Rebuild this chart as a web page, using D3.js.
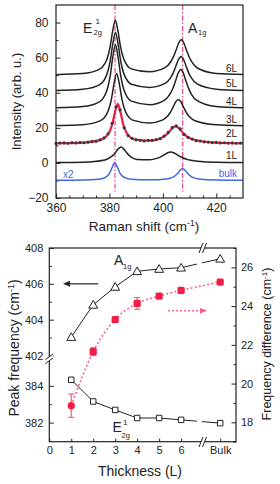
<!DOCTYPE html>
<html><head><meta charset="utf-8">
<script src="https://cdn.jsdelivr.net/npm/d3@7"></script>
<style>
html,body{margin:0;padding:0;background:#fff;}
svg{display:block;font-family:Arial,"Liberation Sans",sans-serif;}
</style></head><body>
<svg id="c" width="280" height="484"></svg>
<script>
// ================= DATA =================
// Top panel: Raman spectra (x = Raman shift cm^-1, y = intensity arb. u.)
const spectraLabels = ["6L","5L","4L","3L","2L","1L","bulk"];
const spectraBase   = [50, 41, 31, 21, 11, 0, -10];
const spec6L = [[360,50.3],[370,50.9],[376.2,53.3],[378.2,56.4],[379.2,59.7],[380.2,65.7],[381.2,75.0],[382.2,81.3],[383.2,75.1],[384.2,65.8],[385.2,59.9],[386.2,56.6],[388.2,53.6],[395,51.9],[400.9,54.4],[402.9,57.5],[403.9,60.3],[404.9,64.1],[405.9,68.2],[406.9,70.2],[407.9,68.2],[408.9,64.0],[409.9,60.2],[410.9,57.4],[412.9,54.1],[420,51.0],[430,50.4]];
const spec5L = [[360,41.3],[370,42.0],[376.25,44.5],[378.25,47.8],[379.25,51.4],[380.25,57.7],[381.25,67.7],[382.25,74.3],[383.25,67.7],[384.25,57.8],[385.25,51.5],[386.25,48.0],[388.25,44.8],[395,43.0],[400.8,45.3],[402.8,48.3],[403.8,51.0],[404.8,54.8],[405.8,58.8],[406.8,60.7],[407.8,58.8],[408.8,54.7],[409.8,50.9],[410.8,48.2],[412.8,45.0],[420,42.0],[430,41.3]];
const spec4L = [[360,31.4],[370,32.1],[376.25,34.8],[378.25,38.4],[379.25,42.3],[380.25,49.3],[381.25,60.1],[382.25,67.3],[383.25,60.1],[384.25,49.4],[385.25,42.5],[386.25,38.7],[388.25,35.2],[395,33.2],[400.7,35.8],[402.7,39.3],[403.7,42.3],[404.7,46.5],[405.7,51.1],[406.7,53.3],[407.7,51.0],[408.7,46.4],[409.7,42.2],[410.7,39.1],[412.7,35.6],[420,32.1],[430,31.4]];
const spec3L = [[360,21.3],[370,21.8],[376.7,24.1],[378.7,27.1],[379.7,30.3],[380.7,36.0],[381.7,44.9],[382.7,50.9],[383.7,45.0],[384.7,36.1],[385.7,30.4],[386.7,27.2],[388.7,24.4],[395,22.8],[399.8,24.4],[401.8,26.7],[402.8,28.8],[403.8,31.7],[404.8,34.8],[405.8,36.2],[406.8,34.7],[407.8,31.6],[408.8,28.7],[409.8,26.6],[411.8,24.2],[420,21.7],[430,21.2]];
const spec2Lfit = [[360,11.2],[370,11.6],[377.1,13.4],[379.1,15.6],[380.1,18.0],[381.1,22.4],[382.1,29.1],[383.1,33.6],[384.1,29.2],[385.1,22.4],[386.1,18.1],[387.1,15.7],[389.1,13.5],[395,12.7],[398.8,13.8],[400.8,15.5],[401.8,16.8],[402.8,18.5],[403.8,20.1],[404.8,20.8],[405.8,20.1],[406.8,18.4],[407.8,16.7],[408.8,15.3],[410.8,13.6],[420,11.5],[430,11.2]];
const spec2Ldata = [[360,11.0],[361.5,11.3],[363,11.4],[364.5,11.2],[366,11.6],[367.5,11.4],[369,11.6],[370.5,11.5],[372,11.8],[373.5,12.1],[375,12.3],[376.5,13.1],[378,14.3],[379.5,16.6],[381,22.6],[382.5,31.9],[384,30.2],[385.5,20.0],[387,15.6],[388.5,14.0],[390,13.1],[391.5,12.9],[393,12.5],[394.5,12.8],[396,12.9],[397.5,13.3],[399,13.8],[400.5,15.3],[402,17.4],[403.5,20.2],[405,21.1],[406.5,19.4],[408,16.2],[409.5,14.5],[411,13.6],[412.5,12.7],[414,12.5],[415.5,12.0],[417,11.9],[418.5,11.6],[420,11.7],[421.5,11.4],[423,11.5],[424.5,11.3],[426,11.4],[427.5,11.2],[429,11.3]];
const spec1L = [[360,0.2],[370,0.4],[378.3,1.7],[380.3,3.1],[381.3,4.3],[382.3,6.0],[383.3,8.0],[384.3,9.0],[385.3,8.0],[386.3,6.1],[387.3,4.4],[388.3,3.2],[390.3,2.0],[395,1.8],[397,2.3],[399,3.3],[400,4.1],[401,5.1],[402,5.9],[403,6.2],[404,5.8],[405,5.0],[406,4.0],[407,3.2],[409,2.0],[413,1.0],[420,0.4],[430,0.2]];
const specBulk = [[360,-9.93],[370,-9.8],[376,-9.3],[378,-8.57],[379,-7.73],[380,-6.0],[381,-2.65],[382,0.25],[383,-2.6],[384,-5.96],[385,-7.7],[386,-8.53],[388,-9.25],[395,-9.64],[401.4,-9.13],[403.4,-8.36],[404.4,-7.56],[405.4,-6.22],[406.4,-4.31],[407.4,-3.15],[408.4,-4.32],[409.4,-6.23],[410.4,-7.57],[411.4,-8.37],[413.4,-9.15],[420,-9.8],[430,-9.94]];
const bulkModes = [382.1, 407.4];        // dash-dot reference lines
const ramanTicks = [360, 380, 400, 420];
const intensityTicks = [-20, 0, 20, 40, 60, 80];

// Bottom panel: peak frequency and frequency difference vs thickness
const thickness    = ["0","1","2","3","4","5","6","Bulk"];
const thicknessPos = [0, 1, 2, 3, 4, 5, 6, 7.78];
const layerPos  = [1, 2, 3, 4, 5, 6, 7.78];
const a1gFreq   = [403.03, 404.83, 405.83, 406.70, 406.83, 406.90, 407.40];
const e2gFreq   = [384.33, 383.15, 382.69, 382.25, 382.25, 382.15, 381.97];
const freqDiff  = [18.86, 21.65, 23.31, 24.14, 24.52, 24.81, 25.24];
const freqErr   = [0.60, 0.20, 0.10, 0.30, 0.12, 0.08, 0.08];
const peakTicks = [382, 384, 402, 404, 406, 408];
const peakMinor = [383, 403, 405, 407];
const diffTicks = [18, 20, 22, 24, 26];
const diffMinor = [17, 19, 21, 23, 25, 27];

// ================= DRAW =================
const svg = d3.select("#c");
const INK = "#222";
const PINK = "#f0468c";
const RED = "#f21d45";
const BLUE = "#3e6ae0";

function cleanAxis(g){ g.select(".domain").remove(); g.selectAll("text").attr("fill",INK).style("font-family","Arial, 'Liberation Sans', sans-serif"); g.selectAll("line").attr("stroke",INK); }

// ---------- top panel ----------
const tx = d3.scaleLinear().domain([360,430]).range([56,243]);
const ty = d3.scaleLinear().domain([-20,90]).range([198,5]);

const T = svg.append("g");
// minor ticks
T.append("g").attr("transform","translate(0,198)")
  .call(d3.axisBottom(tx).tickValues(d3.range(365,430,5).filter(v=>!ramanTicks.includes(v))).tickSize(-2.5).tickFormat(""))
  .call(cleanAxis);
T.append("g").attr("transform","translate(56,0)")
  .call(d3.axisLeft(ty).tickValues(d3.range(-10,90,20)).tickSize(-2.5).tickFormat(""))
  .call(cleanAxis);
// major
T.append("g").attr("transform","translate(0,198)")
  .call(d3.axisBottom(tx).tickValues(ramanTicks).tickSize(-4.5).tickPadding(5).tickFormat(d3.format("d")))
  .call(g=>g.selectAll("text").attr("font-size",12))
  .call(cleanAxis);
T.append("g").attr("transform","translate(56,0)")
  .call(d3.axisLeft(ty).tickValues(intensityTicks).tickSize(-4.5).tickPadding(7.5).tickFormat(d3.format("d")))
  .call(g=>g.selectAll("text").attr("font-size",12))
  .call(cleanAxis);

// dash-dot mode lines
T.selectAll(".mode").data(bulkModes).join("line")
  .attr("x1",d=>tx(d)).attr("x2",d=>tx(d)).attr("y1",ty(90)).attr("y2",ty(-16.5))
  .attr("stroke",PINK).attr("stroke-width",1.2).attr("stroke-dasharray","5,2,1.5,2");

const tline = d3.line().x(d=>tx(d[0])).y(d=>ty(d[1])).curve(d3.curveMonotoneX);
[spec6L,spec5L,spec4L,spec3L,spec1L].forEach(s=>{
  T.append("path").attr("d",tline(s)).attr("fill","none").attr("stroke",INK).attr("stroke-width",1.5);
});
T.append("path").attr("d",tline(specBulk)).attr("fill","none").attr("stroke",BLUE).attr("stroke-width",1.5);
T.append("path").attr("d",tline(spec2Lfit)).attr("fill","none").attr("stroke",RED).attr("stroke-width",2.2);
T.selectAll(".pt").data(spec2Ldata).join("circle")
  .attr("cx",d=>tx(d[0])).attr("cy",d=>ty(d[1])).attr("r",1.6).attr("fill","#3a3a3a");

// curve labels
T.selectAll(".lab").data(spectraLabels).join("text")
  .attr("x",237).attr("y",(d,i)=>ty(spectraBase[i]+(d==="2L"?3.5:2)))
  .attr("text-anchor","end").attr("font-size",10)
  .attr("fill",(d)=>d==="bulk"?BLUE:INK).text(d=>d);
T.append("text").attr("x",63).attr("y",ty(-8.6)).attr("font-size",10).attr("fill",BLUE).text("x2");

// peak labels
T.append("text").attr("x",83).attr("y",33).attr("font-size",14).attr("fill",INK).text("E");
T.append("text").attr("x",95.5).attr("y",24).attr("font-size",8).attr("fill",INK).text("1");
T.append("text").attr("x",93.5).attr("y",35).attr("font-size",7.5).attr("fill",INK).text("2g");
T.append("text").attr("x",188).attr("y",33).attr("font-size",14).attr("fill",INK).text("A");
T.append("text").attr("x",198).attr("y",35).attr("font-size",7.5).attr("fill",INK).text("1g");

// box
T.append("rect").attr("x",56).attr("y",5).attr("width",187).attr("height",193)
  .attr("fill","none").attr("stroke",INK).attr("stroke-width",1.2);

// axis titles
const xt = T.append("text").attr("x",144).attr("y",230.5).attr("text-anchor","middle").attr("font-size",13.5).attr("fill",INK);
xt.append("tspan").text("Raman shift (cm");
xt.append("tspan").attr("dy",-5).attr("font-size",8.5).text("-1");
xt.append("tspan").attr("dy",5).text(")");
T.append("text").attr("transform","translate(20.5,101.5) rotate(-90)").attr("text-anchor","middle")
  .attr("font-size",13).attr("fill",INK).text("Intensity (arb. u.)");

// ---------- bottom panel ----------
const bx = d3.scaleLinear().domain([0,8.5]).range([49.3,236]);
const by = d3.scaleLinear().domain([380.96,385.3,401.75,408]).range([441.7,362,360,248]);
const byR = d3.scaleLinear().domain([17,27]).range([441.7,248]);
const B = svg.append("g");

B.append("g").attr("transform","translate(0,441.7)")
  .call(d3.axisBottom(bx).tickValues(thicknessPos).tickSize(-3).tickPadding(5).tickFormat((d,i)=>thickness[i]))
  .call(g=>g.selectAll("text").attr("font-size",11))
  .call(cleanAxis);
B.append("g").attr("transform","translate(49.3,0)")
  .call(d3.axisLeft(by).tickValues(peakMinor).tickSize(-2.5).tickFormat(""))
  .call(cleanAxis);
B.append("g").attr("transform","translate(49.3,0)")
  .call(d3.axisLeft(by).tickValues(peakTicks).tickSize(-4.5).tickPadding(6).tickFormat(d3.format("d")))
  .call(g=>g.selectAll("text").attr("font-size",11))
  .call(cleanAxis);
B.append("g").attr("transform","translate(236,0)")
  .call(d3.axisRight(byR).tickValues(diffMinor).tickSize(-2.5).tickFormat(""))
  .call(cleanAxis);
B.append("g").attr("transform","translate(236,0)")
  .call(d3.axisRight(byR).tickValues(diffTicks).tickSize(-4.5).tickPadding(5).tickFormat(d3.format("d")))
  .call(g=>g.selectAll("text").attr("font-size",11))
  .call(cleanAxis);

// box
B.append("rect").attr("x",49.3).attr("y",248).attr("width",186.7).attr("height",193.7)
  .attr("fill","none").attr("stroke",INK).attr("stroke-width",1.2);
// axis breaks
function brk(x1,y1,x2,y2,dx,dy){
  B.append("polygon").attr("points",`${x1},${y1} ${x2},${y2} ${x2+dx},${y2+dy} ${x1+dx},${y1+dy}`).attr("fill","#fff");
  B.append("line").attr("x1",x1).attr("y1",y1).attr("x2",x2).attr("y2",y2).attr("stroke",INK).attr("stroke-width",1);
  B.append("line").attr("x1",x1+dx).attr("y1",y1+dy).attr("x2",x2+dx).attr("y2",y2+dy).attr("stroke",INK).attr("stroke-width",1);
}
brk(45.5,359.5,53,354,0,4);
brk(199,447,203,437,3.5,0);
brk(199,253,203,243,3.5,0);

// clip to leave a gap at the x break for the solid lines
const defs = svg.append("defs");
const cp = defs.append("clipPath").attr("id","gap");
cp.append("rect").attr("x",0).attr("y",0).attr("width",197).attr("height",484);
cp.append("rect").attr("x",202).attr("y",0).attr("width",78).attr("height",484);

const lineL = d3.line().x((d,i)=>bx(layerPos[i])).y(d=>by(d));
B.append("path").attr("d",lineL(a1gFreq)).attr("fill","none").attr("stroke",INK).attr("stroke-width",1).attr("clip-path","url(#gap)");
B.append("path").attr("d",lineL(e2gFreq)).attr("fill","none").attr("stroke",INK).attr("stroke-width",1).attr("clip-path","url(#gap)");

const lineR = d3.line().x((d,i)=>bx(layerPos[i])).y(d=>byR(d)).curve(d3.curveMonotoneX);
B.append("path").attr("d",lineR(freqDiff)).attr("fill","none").attr("stroke","#ff5588").attr("stroke-width",1.6).attr("stroke-dasharray","1.8,2.4");

// markers
B.selectAll(".tri").data(a1gFreq).join("path")
  .attr("transform",(d,i)=>`translate(${bx(layerPos[i])},${by(d)+0.8})`)
  .attr("d",d3.symbol(d3.symbolTriangle,34)).attr("fill","#fff").attr("stroke",INK).attr("stroke-width",1);
B.selectAll(".sq").data(e2gFreq).join("path")
  .attr("transform",(d,i)=>`translate(${bx(layerPos[i])},${by(d)})`)
  .attr("d",d3.symbol(d3.symbolSquare,30)).attr("fill","#fff").attr("stroke",INK).attr("stroke-width",1);

// error bars
freqDiff.forEach((v,i)=>{
  const x = bx(layerPos[i]);
  const y0 = byR(v-freqErr[i]), y1 = byR(v+freqErr[i]);
  B.append("line").attr("x1",x).attr("x2",x).attr("y1",y0).attr("y2",y1).attr("stroke","#f2607f").attr("stroke-width",1.2);
  B.append("line").attr("x1",x-3).attr("x2",x+3).attr("y1",y0).attr("y2",y0).attr("stroke","#f2607f").attr("stroke-width",1.2);
  B.append("line").attr("x1",x-3).attr("x2",x+3).attr("y1",y1).attr("y2",y1).attr("stroke","#f2607f").attr("stroke-width",1.2);
});
B.selectAll(".rd").data(freqDiff).join("rect")
  .attr("x",(d,i)=>bx(layerPos[i])-3.6).attr("y",d=>byR(d)-3.6).attr("width",7.2).attr("height",7.2)
  .attr("rx",(d,i)=>i===0?3.6:1.6).attr("fill",RED);

// arrows
B.append("line").attr("x1",bx(2.22)).attr("x2",bx(0.62)+6).attr("y1",by(406)).attr("y2",by(406)).attr("stroke",INK).attr("stroke-width",1.2);
B.append("path").attr("d",`M${bx(0.62)},${by(406)} l7,-3 l0,6 z`).attr("fill",INK);
B.append("line").attr("x1",bx(5.41)).attr("x2",bx(7.18)-6).attr("y1",byR(23.76)).attr("y2",byR(23.76)).attr("stroke","#ff5588").attr("stroke-width",1.6).attr("stroke-dasharray","1.8,2.2");
B.append("path").attr("d",`M${bx(7.18)},${byR(23.76)} l-7,-2.8 l0,5.6 z`).attr("fill","#ff5588");

// mode labels
B.append("text").attr("x",114).attr("y",265).attr("font-size",14).attr("fill",INK).text("A");
B.append("text").attr("x",123).attr("y",268.5).attr("font-size",7.5).attr("fill",INK).text("1g");
B.append("text").attr("x",112.5).attr("y",431.5).attr("font-size",14).attr("fill",INK).text("E");
B.append("text").attr("x",123).attr("y",424.5).attr("font-size",8).attr("fill",INK).text("1");
B.append("text").attr("x",121.5).attr("y",437.5).attr("font-size",7.5).attr("fill",INK).text("2g");

// axis titles
B.append("text").attr("x",140).attr("y",476).attr("text-anchor","middle").attr("font-size",14).attr("fill",INK).text("Thickness (L)");
const yl = B.append("text").attr("transform","translate(19,348) rotate(-90)").attr("text-anchor","middle").attr("font-size",14).attr("fill",INK);
yl.append("tspan").text("Peak frequency (cm");
yl.append("tspan").attr("dy",-5).attr("font-size",9).text("-1");
yl.append("tspan").attr("dy",5).text(")");
const yr = B.append("text").attr("transform","translate(271,344) rotate(-90)").attr("text-anchor","middle").attr("font-size",12.5).attr("fill",INK);
yr.append("tspan").text("Frequency difference (cm");
yr.append("tspan").attr("dy",-4.5).attr("font-size",8).text("-1");
yr.append("tspan").attr("dy",4.5).text(")");
</script>
</body></html>
